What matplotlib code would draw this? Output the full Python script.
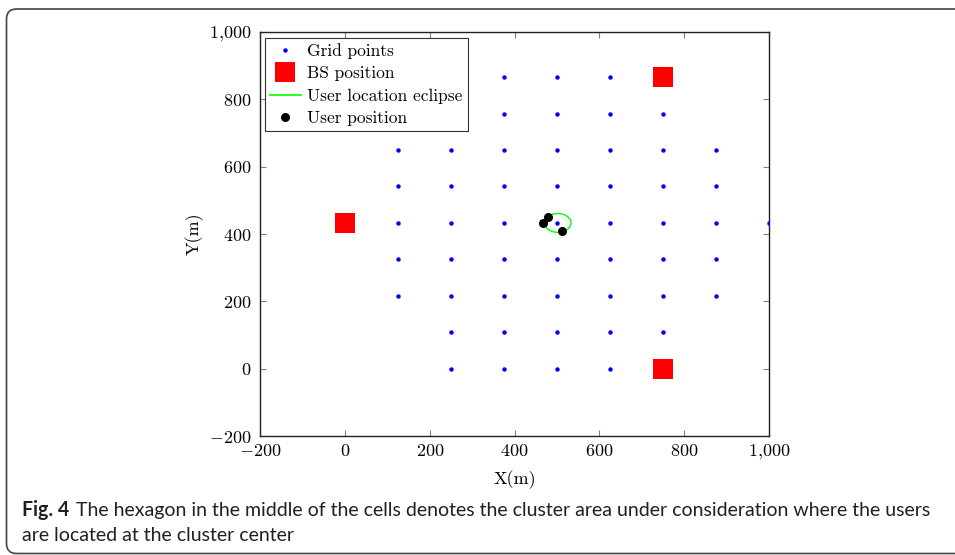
import matplotlib
matplotlib.use('Agg')
import matplotlib.pyplot as plt
from matplotlib.patches import Ellipse, FancyBboxPatch
from matplotlib.lines import Line2D
from matplotlib.ticker import FixedLocator, FixedFormatter
import matplotlib.transforms as mtransforms

plt.rcParams['font.family'] = 'cmr10'
plt.rcParams['mathtext.fontset'] = 'cm'
plt.rcParams['axes.unicode_minus'] = False

# grid points, one list of x values per row
row_y = [866.0, 757.75, 649.5, 541.25, 433.0, 324.75, 216.5, 108.25, 0.0]
row_x = [
    [375, 500, 625],
    [375, 500, 625, 750],
    [125, 250, 375, 500, 625, 750, 875],
    [125, 250, 375, 500, 625, 750, 875],
    [125, 250, 375, 500, 625, 750, 875, 1000],
    [125, 250, 375, 500, 625, 750, 875],
    [125, 250, 375, 500, 625, 750, 875],
    [250, 375, 500, 625, 750],
    [250, 375, 500, 625],
]
bs_x = [0, 750, 750]
bs_y = [433, 866, 0]
user_x = [478, 468, 511]
user_y = [452, 433, 408]
ell_center = (502, 433)
ell_w, ell_h = 62, 56

xticks = [-200, 0, 200, 400, 600, 800, 1000]
yticks = [-200, 0, 200, 400, 600, 800, 1000]

def lab(v):
    s = f"{v:,}".replace(',', '{,}')
    return '$' + s + '$'

fig = plt.figure(figsize=(9.55, 5.55), dpi=100)
ax = fig.add_axes([0.2723, 0.2144, 0.5330, 0.7279])

gx, gy = [], []
for y, xs in zip(row_y, row_x):
    gx += xs
    gy += [y] * len(xs)

ax.plot(gx, gy, 'o', color='#0000ff', markersize=3.2, markeredgewidth=0, zorder=3)
ax.plot(bs_x, bs_y, 's', color='#ff0000', markersize=14, markeredgewidth=0, zorder=3)
ell = Ellipse(ell_center, ell_w, ell_h, fill=False, edgecolor='#00ff00', linewidth=1.0, zorder=2)
ax.add_patch(ell)
ax.plot(user_x, user_y, 'o', color='black', markersize=6.5, markeredgewidth=0, zorder=4)

ax.set_xlim(-200, 1000)
ax.set_ylim(-200, 1000)
ax.xaxis.set_major_locator(FixedLocator(xticks))
ax.xaxis.set_major_formatter(FixedFormatter([lab(v) for v in xticks]))
ax.yaxis.set_major_locator(FixedLocator(yticks))
ax.yaxis.set_major_formatter(FixedFormatter([lab(v) for v in yticks]))
ax.tick_params(direction='in', top=True, right=True, length=4, width=0.8,
               color='#808080', labelsize=13, pad=5)
ax.tick_params(axis='y', pad=6)
for sp in ax.spines.values():
    sp.set_linewidth(1.0)
    sp.set_color('#222222')
ax.set_xlabel('X(m)', fontsize=13, labelpad=6)
ax.set_ylabel('Y(m)', fontsize=13, labelpad=4)

handles = [
    Line2D([], [], marker='o', color='#0000ff', linestyle='none', markersize=3.2, markeredgewidth=0),
    Line2D([], [], marker='s', color='#ff0000', linestyle='none', markersize=14, markeredgewidth=0),
    Line2D([], [], color='#00ff00', linewidth=1.2),
    Line2D([], [], marker='o', color='black', linestyle='none', markersize=6.5, markeredgewidth=0),
]
leg = ax.legend(handles, ['Grid points', 'BS position', 'User location eclipse', 'User position'],
                loc='upper left', bbox_to_anchor=(0.009, 0.985), fontsize=12.5, frameon=True,
                fancybox=False, edgecolor='#333333', framealpha=1, borderpad=0.3,
                labelspacing=0.4, handlelength=1.8, handletextpad=0.35, borderaxespad=0)
leg.get_frame().set_linewidth(0.8)

# outer rounded frame, in pixels
frame = FancyBboxPatch((6.5, 1.5), 1000, 544.5, boxstyle='round,pad=0,rounding_size=10',
                       transform=mtransforms.IdentityTransform(), fill=False,
                       edgecolor='#444444', linewidth=1.2, clip_on=False)
fig.patches.append(frame)

# caption, sized so the first line ends near x=935
cap_font = 'Lato'
cap_col = '#231f20'
line1 = 'The hexagon in the middle of the cells denotes the cluster area under consideration where the users'
line2 = 'are located at the cluster center'
fs = 14
t1 = fig.text(22 / 955, 1 - 516 / 555, 'Fig. 4', fontsize=fs, fontweight='bold',
              family=cap_font, va='baseline', ha='left', color=cap_col)
t2 = fig.text(0, 1 - 516 / 555, line1, fontsize=fs, family=cap_font, va='baseline',
              ha='left', color=cap_col)
fig.canvas.draw()
r = fig.canvas.get_renderer()
total = t1.get_window_extent(r).width + 7 + t2.get_window_extent(r).width
fs = fs * (935 - 22) / total
t1.set_fontsize(fs)
t2.set_fontsize(fs)
fig.canvas.draw()
bb = t1.get_window_extent(r)
t2.set_x((bb.x1 + 7 * fs / 14) / 955)
fig.text(22 / 955, 1 - 541 / 555, line2, fontsize=fs, family=cap_font, va='baseline',
         ha='left', color=cap_col)

fig.savefig('out.png', dpi=100)
